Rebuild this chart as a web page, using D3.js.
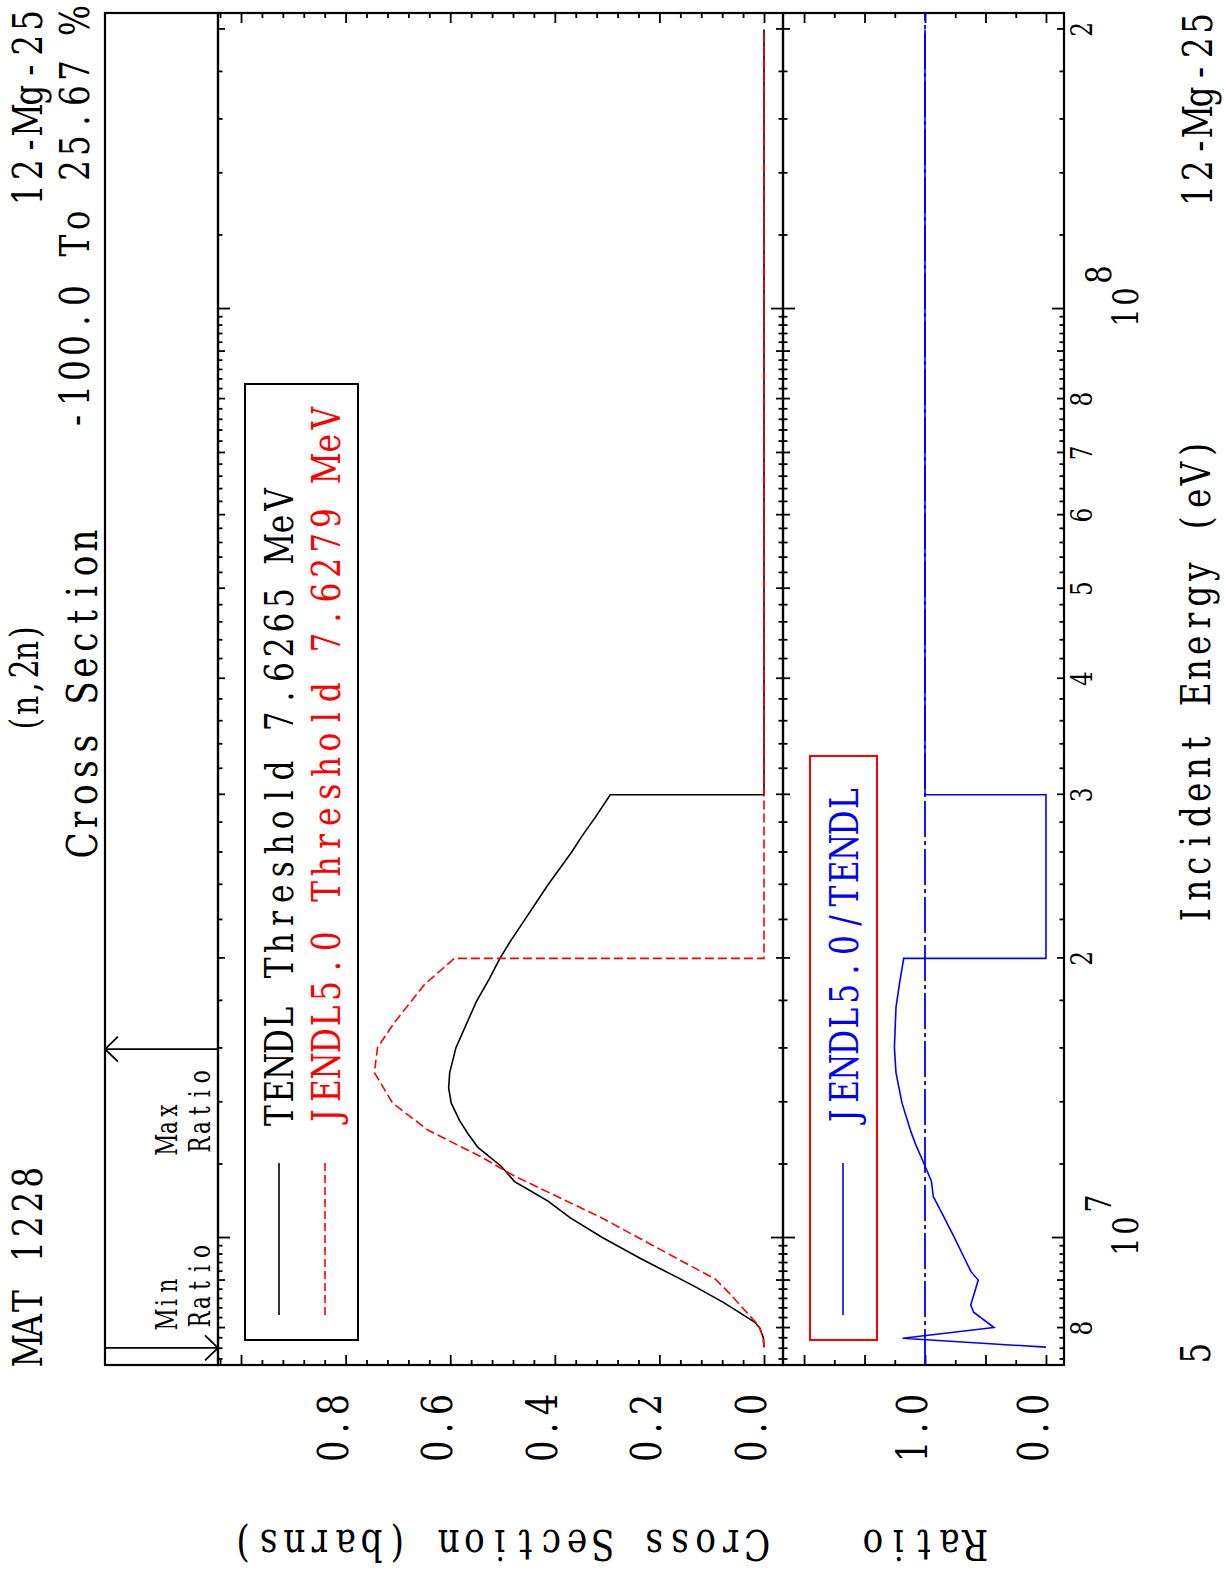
<!DOCTYPE html>
<html><head><meta charset="utf-8">
<script src="https://cdn.jsdelivr.net/npm/d3@7"></script>
<style>body{margin:0;background:#fff}svg{display:block}text{white-space:pre}</style>
</head><body>
<svg id="c" width="1225" height="1585"></svg>
<script>
// ---------------- DATA ----------------
const tendlE  = [7.6265e6,7.8e6,8.0e6,8.12e6,8.52e6,8.86e6,9.07e6,9.51e6,1.002e7,1.052e7,1.096e7,1.128e7,1.15e7,1.194e7,1.252e7,1.295e7,1.338e7,1.397e7,1.451e7,1.507e7,1.603e7,1.797e7,1.902e7,2.0e7,2.082e7,2.203e7,2.4e7,2.602e7,2.703e7,2.835e7,3.0e7,3.0e7,2.0e8];
const tendlXS = [0,0.001,0.008,0.018,0.077,0.131,0.166,0.237,0.31,0.371,0.413,0.451,0.477,0.502,0.547,0.566,0.582,0.598,0.603,0.601,0.589,0.55,0.525,0.505,0.486,0.457,0.413,0.368,0.349,0.323,0.294,0,0];
const jendlE  = [7.6279e6,7.83e6,8.06e6,8.73e6,9.03e6,1.051e7,1.166e7,1.223e7,1.307e7,1.397e7,1.507e7,1.603e7,1.705e7,1.875e7,2.0e7,2.0e7,2.0e8];
const jendlXS = [0,0.002,0.011,0.067,0.093,0.31,0.477,0.541,0.643,0.71,0.745,0.739,0.707,0.649,0.592,0,0];
const ratioE  = [7.63e6,7.80e6,8.01e6,8.32e6,8.47e6,8.77e6,9.01e6,9.2e6,9.4e6,9.6e6,1.0e7,1.051e7,1.099e7,1.107e7,1.151e7,1.211e7,1.258e7,1.301e7,1.397e7,1.507e7,1.603e7,1.771e7,1.875e7,2.0e7,2.0e7,3.0e7,3.0e7,2.0e8];
const ratioV  = [0,1.185,0.43,0.598,0.622,0.587,0.56,0.62,0.655,0.689,0.755,0.84,0.917,0.931,0.947,1.019,1.074,1.116,1.19,1.24,1.253,1.24,1.212,1.176,0,0,1.0,1.0];
const energyDomain = [7.30e6, 2.083e8];
const xsDomain = [-0.0363, 1.044];
const ratioDomain = [-0.149, 2.174];
const refRatio = 1.0;
const minRatioE = 7.615e6, maxRatioE = 1.597e7;
const xsLabelVals = [0.0,0.2,0.4,0.6,0.8];
const xsLabels = ["0.0","0.2","0.4","0.6","0.8"];
const ratioLabelVals = [0.0,1.0];
const ratioLabels = ["0.0","1.0"];
const eLabelVals = [8e6,2e7,3e7,4e7,5e7,6e7,7e7,8e7,2e8];
const eLabels = ["8","2","3","4","5","6","7","8","2"];
const eDecadeVals = [1e7,1e8];
const eDecadeExp = ["7","8"];
const legendMain = ["TENDL Threshold 7.6265 MeV","JENDL5.0 Threshold 7.6279 MeV"];
const legendRatio = ["JENDL5.0/TENDL"];

// ---------------- SETUP ----------------
const W = 1225, H = 1585;
const FONT = "'DejaVu Serif','Liberation Serif',serif";
const svg = d3.select("#c");
svg.append("rect").attr("width",W).attr("height",H).attr("fill","#fff");
// draw in the original landscape frame (1585 x 1225), then rotate
const g = svg.append("g").attr("transform",`translate(0,${H}) rotate(-90)`);

const U0 = 220, U1 = 1572;
const x = d3.scaleLog().domain(energyDomain).range([U0,U1]);
const yM = d3.scaleLinear().domain(xsDomain).range([783,218]);
const yR = d3.scaleLinear().domain(ratioDomain).range([1064,783]);

// monospaced placement of serif glyphs (each character in its own cell)
function txt(str,u,v,o){
  o = Object.assign({size:41,anchor:"start",sx:0.8,fill:"#000",rot:0},o||{});
  const n = str.length, adv = o.adv || o.size*0.6, total = adv*n;
  const start = o.anchor==="middle" ? -total/2 : (o.anchor==="end" ? -total : 0);
  const xs = d3.range(n).map(i=>((start+adv*(i+0.5))/o.sx).toFixed(2)).join(" ");
  return g.append("text")
    .attr("transform",`translate(${u},${v})${o.rot?` rotate(${o.rot})`:""} scale(${o.sx},1)`)
    .attr("x",xs).attr("y",0)
    .attr("font-family",FONT).attr("font-size",o.size)
    .attr("text-anchor","middle").attr("fill",o.fill).text(str);
}

// ---------------- FRAMES ----------------
const frame = (x0,y0,w,h,c)=>g.append("rect").attr("x",x0).attr("y",y0).attr("width",w).attr("height",h)
  .attr("fill","none").attr("stroke",c||"#000").attr("stroke-width",2.2);
frame(U0,105,U1-U0,113);
frame(U0,218,U1-U0,565);
frame(U0,783,U1-U0,281);

// ---------------- TICKS ----------------
const eTicks = [];
for(let k=6;k<=8;k++){const p=Math.pow(10,k);
  for(let j=5;j<50;j++){const e=j/5*p;
    if(e>=energyDomain[0]&&e<=energyDomain[1]) eTicks.push({e,kind:j===5?2:(j%5===0?1:0)});}}
const eLen = [4.5,7,12];
function clean(s){s.select(".domain").remove();s.selectAll("line").attr("stroke","#000").attr("stroke-width",1.8);}
[[218,d3.axisBottom],[783,d3.axisTop],[783,d3.axisBottom],[1064,d3.axisTop]].forEach(([v,ax])=>{
  [0,1,2].forEach(kind=>{
    g.append("g").attr("transform",`translate(0,${v})`)
      .call(ax(x).tickValues(eTicks.filter(t=>t.kind===kind).map(t=>t.e)).tickSize(eLen[kind]).tickFormat(""))
      .call(clean);
  });
});
const xsMinor = d3.range(0,27).filter(i=>i%5).map(i=>+(i*0.04).toFixed(2));
const xsMajor = d3.range(0,27).filter(i=>i%5===0).map(i=>+(i*0.04).toFixed(2));
const rMinor = d3.range(0,9).filter(i=>i%2).map(i=>i*0.25);
const rMajor = d3.range(0,9).filter(i=>i%2===0).map(i=>i*0.25);
[[U0,d3.axisRight],[U1,d3.axisLeft]].forEach(([u,ax])=>{
  g.append("g").attr("transform",`translate(${u},0)`).call(ax(yM).tickValues(xsMinor).tickSize(5).tickFormat("")).call(clean);
  g.append("g").attr("transform",`translate(${u},0)`).call(ax(yM).tickValues(xsMajor).tickSize(10).tickFormat("")).call(clean);
  g.append("g").attr("transform",`translate(${u},0)`).call(ax(yR).tickValues(rMinor).tickSize(5).tickFormat("")).call(clean);
  g.append("g").attr("transform",`translate(${u},0)`).call(ax(yR).tickValues(rMajor).tickSize(10).tickFormat("")).call(clean);
});

// ---------------- TICK LABELS ----------------
xsLabelVals.forEach((val,i)=>txt(xsLabels[i],192,yM(val)+2,{anchor:"end",size:42,adv:23.3}));
ratioLabelVals.forEach((val,i)=>txt(ratioLabels[i],192,yR(val)+2,{anchor:"end",size:42,adv:23.3}));
eLabelVals.forEach((e,i)=>txt(eLabels[i],x(e),1092,{anchor:"middle",size:29}));
eDecadeVals.forEach((e,i)=>{
  txt("10",x(e)+2,1138,{anchor:"middle",size:36,adv:21});
  txt(eDecadeExp[i],x(e)+24,1111,{size:36,adv:21});
});

// ---------------- CURVES ----------------
const lineM = d3.line().x(d=>x(d[0])).y(d=>yM(d[1]));
const lineR = d3.line().x(d=>x(d[0])).y(d=>yR(d[1]));
g.append("path").attr("d",lineM(tendlE.map((e,i)=>[e,tendlXS[i]])))
  .attr("fill","none").attr("stroke","#000").attr("stroke-width",1.6);
g.append("path").attr("d",lineM(jendlE.map((e,i)=>[e,jendlXS[i]])))
  .attr("fill","none").attr("stroke","#ff0000").attr("stroke-width",1.6).attr("stroke-dasharray","9,4");
g.append("path").attr("d",lineR(energyDomain.map(e=>[e,refRatio])))
  .attr("fill","none").attr("stroke","#0000ff").attr("stroke-width",1.8).attr("stroke-dasharray","36,4,4,4");
g.append("path").attr("d",lineR(ratioE.map((e,i)=>[e,ratioV[i]])))
  .attr("fill","none").attr("stroke","#0000ff").attr("stroke-width",1.6);

// ---------------- LEGENDS ----------------
g.append("rect").attr("x",245).attr("y",245).attr("width",1201-245).attr("height",113)
  .attr("fill","none").attr("stroke","#000").attr("stroke-width",2);
g.append("line").attr("x1",270).attr("x2",422).attr("y1",279).attr("y2",279).attr("stroke","#000").attr("stroke-width",1.6);
g.append("line").attr("x1",270).attr("x2",422).attr("y1",325).attr("y2",325).attr("stroke","#ff0000").attr("stroke-width",1.6).attr("stroke-dasharray","8,4");
txt(legendMain[0],457,293,{size:39,adv:24.65});
txt(legendMain[1],457,340,{size:39,adv:24.9,fill:"#ff0000"});
g.append("rect").attr("x",245).attr("y",810).attr("width",829-245).attr("height",67)
  .attr("fill","none").attr("stroke","#ff0000").attr("stroke-width",2);
g.append("line").attr("x1",270).attr("x2",422).attr("y1",843).attr("y2",843).attr("stroke","#0000ff").attr("stroke-width",1.6);
txt(legendRatio[0],457,858,{size:39,adv:24.4,fill:"#0000ff"});

// ---------------- MIN / MAX RATIO ----------------
function arrow(u,headAtTop){
  g.append("line").attr("x1",u).attr("x2",u).attr("y1",105).attr("y2",218).attr("stroke","#000").attr("stroke-width",1.8);
  const vt = headAtTop?105:218, vb = headAtTop?118:205;
  g.append("path").attr("d",`M${u-12.5},${vb}L${u},${vt}L${u+12.5},${vb}`).attr("fill","none").attr("stroke","#000").attr("stroke-width",1.8);
}
arrow(x(minRatioE),false);
arrow(x(maxRatioE),true);
txt("Min",x(minRatioE)+20,177,{size:30,adv:17,sx:0.72});
txt("Ratio",x(minRatioE)+20,210,{size:30,adv:17,sx:0.72});
txt("Max",x(maxRatioE)-19-85,177,{size:30,adv:17,sx:0.72});
txt("Ratio",x(maxRatioE)-19-85,210,{size:30,adv:17,sx:0.72});

// ---------------- TITLES ----------------
txt("MAT 1228",222,42,{size:41,adv:24.75});
txt("(n,2n)",907,38,{anchor:"middle",size:40,adv:18.3,sx:0.75});
txt("Cross Section",892,97,{anchor:"middle",size:43,adv:25.4});
txt("12-Mg-25",1577,42,{anchor:"end",size:41,adv:24.9});
txt("-100.0 To 25.67 %",1577,89,{anchor:"end",size:41,adv:25});
txt("Incident Energy (eV)",903,1210,{anchor:"middle",size:41,adv:24.5});
txt("12-Mg-25",1574,1212,{anchor:"end",size:41,adv:24.6});
txt("5",232,1210,{anchor:"middle",size:41});
txt("Cross Section (barns)",55,500,{anchor:"middle",size:43,adv:25.7,rot:-90});
txt("Ratio",55,924,{anchor:"middle",size:43,adv:25.6,rot:-90});
</script>
</body></html>
